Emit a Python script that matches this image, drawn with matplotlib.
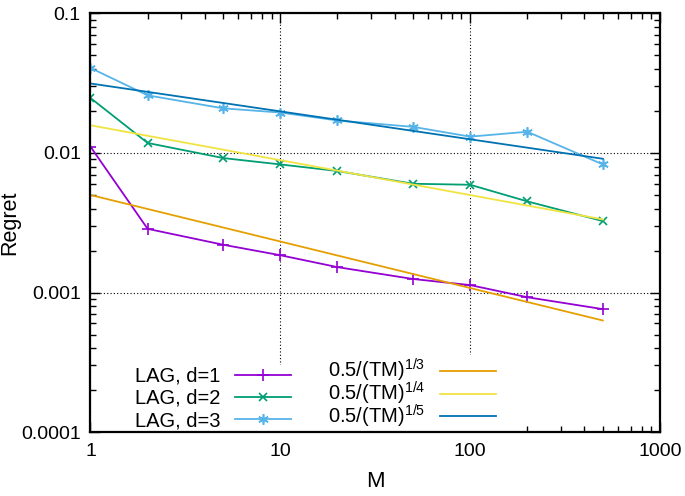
"""Regret vs M, log-log, stil gnuplot."""
import matplotlib
matplotlib.use("Agg")
import matplotlib.pyplot as plt
from matplotlib.ticker import FixedLocator, FuncFormatter, LogLocator, NullFormatter

plt.rcParams["font.family"] = ["Liberation Sans", "DejaVu Sans"]
plt.rcParams["mathtext.fontset"] = "custom"
plt.rcParams["mathtext.rm"] = "Liberation Sans"
plt.rcParams["mathtext.it"] = "Liberation Sans:italic"

M = [1, 2, 5, 10, 20, 50, 100, 200, 500]
lag_d1 = [0.0111, 0.00286, 0.0022, 0.00185, 0.00152, 0.00125, 0.00113, 0.000925, 0.00076]
lag_d2 = [0.0248, 0.0118, 0.0092, 0.00828, 0.00743, 0.00602, 0.00592, 0.0045, 0.00325]
lag_d3 = [0.0407, 0.0259, 0.0209, 0.0195, 0.0171, 0.0154, 0.0131, 0.0142, 0.00828]

# dreptele de referinta (capetele la M=1 si M=500)
M_ref = [1, 500]
ref_13 = [0.0050, 0.00063]
ref_14 = [0.0158, 0.00334]
ref_15 = [0.0315, 0.00909]

fig = plt.figure(figsize=(6.85, 4.96), dpi=100)
ax = fig.add_axes([0.1321, 0.129, 0.8314, 0.8438])

h1 = ax.plot(M, lag_d1, color="#9400D3", lw=1.3, marker="+", ms=8, mew=1.2, label="LAG, d=1")
h2 = ax.plot(M, lag_d2, color="#009E73", lw=1.3, marker="x", ms=5.5, mew=1.2, label="LAG, d=2")
h3 = ax.plot(M, lag_d3, color="#56B4E9", lw=1.3, marker=(6, 2, 0), ms=7.5, mew=1.2, label="LAG, d=3")
r1 = ax.plot(M_ref, ref_13, color="#E69F00", lw=1.3, label="0.5/(TM)$^{1/3}$")
r2 = ax.plot(M_ref, ref_14, color="#F0E442", lw=1.3, label="0.5/(TM)$^{1/4}$")
r3 = ax.plot(M_ref, ref_15, color="#0072B2", lw=1.3, label="0.5/(TM)$^{1/5}$")

ax.set_xscale("log")
ax.set_yscale("log")
ax.set_xlim(1, 1000)
ax.set_ylim(0.0001, 0.1)

ax.xaxis.set_major_locator(FixedLocator([1, 10, 100, 1000]))
ax.yaxis.set_major_locator(FixedLocator([0.0001, 0.001, 0.01, 0.1]))
ax.xaxis.set_minor_locator(LogLocator(base=10, subs=range(2, 10)))
ax.yaxis.set_minor_locator(LogLocator(base=10, subs=range(2, 10)))
ax.xaxis.set_minor_formatter(NullFormatter())
ax.yaxis.set_minor_formatter(NullFormatter())
ax.xaxis.set_major_formatter(FuncFormatter(lambda v, p: f"{v:g}"))
ax.yaxis.set_major_formatter(FuncFormatter(lambda v, p: f"{v:.4f}".rstrip("0")))

ax.tick_params(which="both", direction="in", top=True, right=True, labelsize=14)
ax.tick_params(axis="y", pad=7)
ax.tick_params(axis="x", pad=8)
ax.tick_params(which="major", length=7, width=1.0)
ax.tick_params(which="minor", length=4, width=1.0)
for s in ax.spines.values():
    s.set_linewidth(1.6)

ax.grid(True, which="major", color="black", ls=(0, (1, 2)), lw=0.8)

ax.set_xlabel("M", fontsize=16, labelpad=8)
ax.set_ylabel("Regret", fontsize=15.5)
ax.yaxis.set_label_coords(-0.123, 0.5)

stil_leg = dict(loc="lower left", markerfirst=False, fontsize=14.5, frameon=True,
                fancybox=False, edgecolor="none", facecolor="white", framealpha=1.0,
                handlelength=2.8, handletextpad=0.7, borderpad=0.1, borderaxespad=0.0)
leg1 = ax.legend(handles=h1 + h2 + h3, bbox_to_anchor=(0.0745, 0.0),
                 labelspacing=0.15, **stil_leg)
ax.add_artist(leg1)
# superscriptele maresc randurile, deci spatiere negativa ca sa se alinieze
leg2 = ax.legend(handles=r1 + r2 + r3, bbox_to_anchor=(0.4135, 0.0),
                 labelspacing=-0.22, **stil_leg)
# axa de jos si tick-urile raman deasupra legendei
leg1.set_zorder(2.4)
leg2.set_zorder(2.4)

plt.savefig("out.png", dpi=100)
plt.close(fig)
